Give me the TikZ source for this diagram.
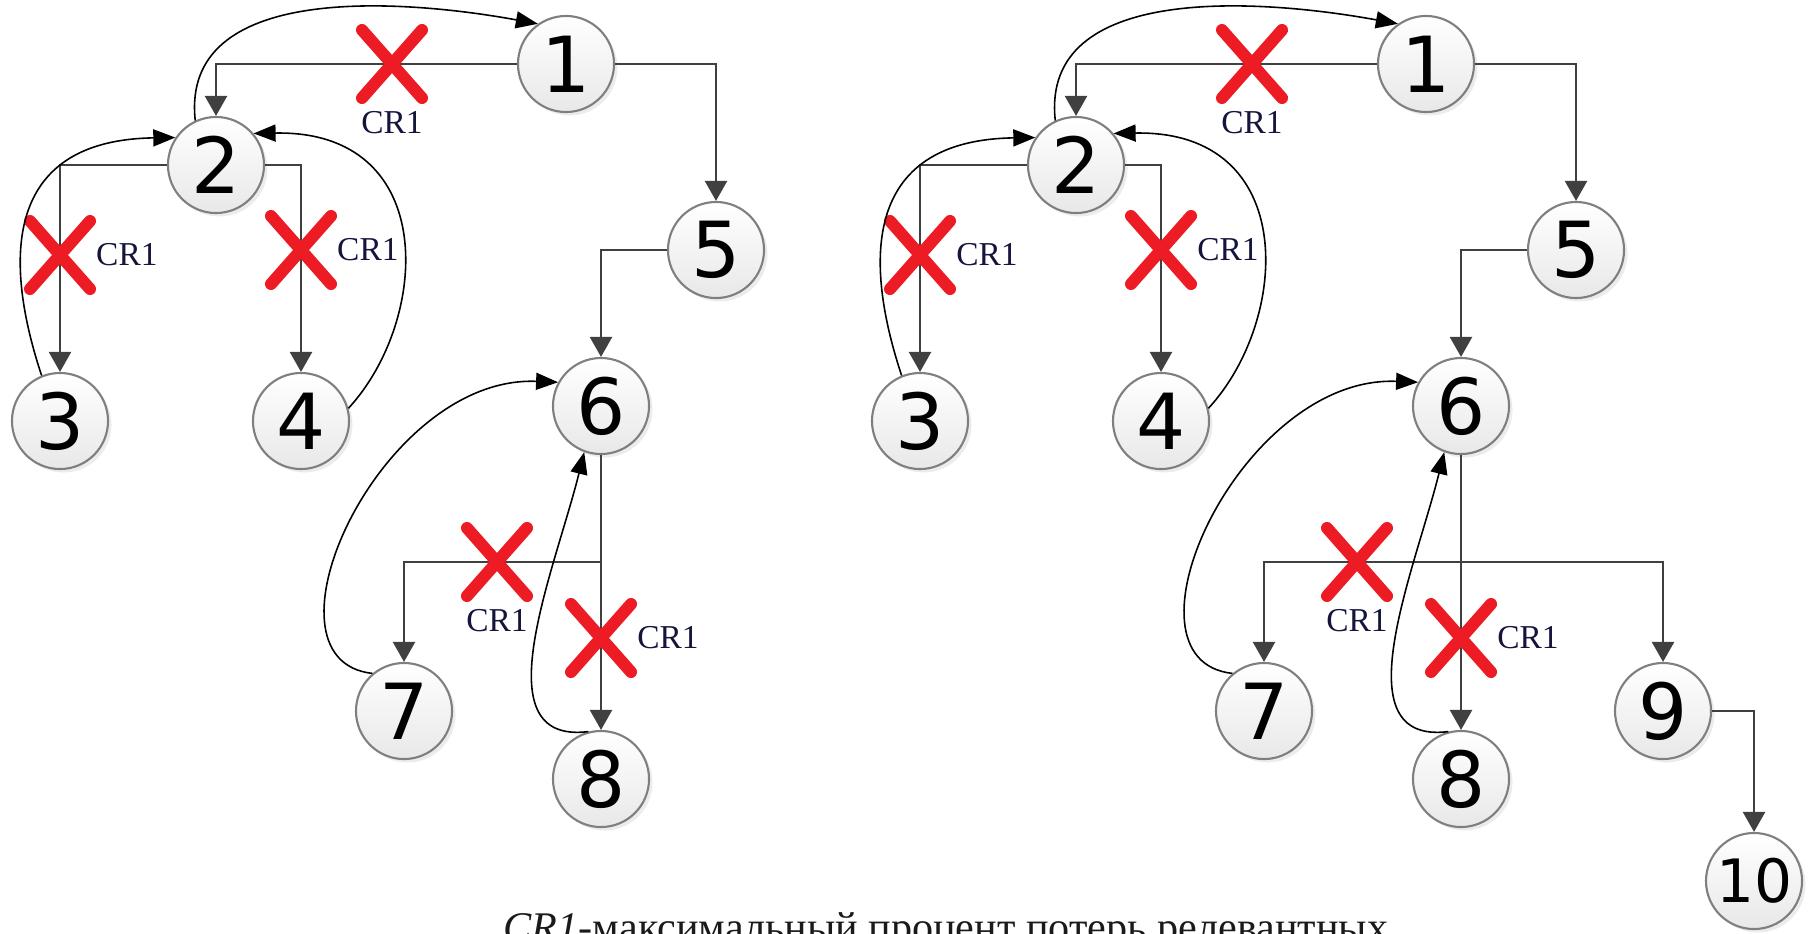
\documentclass[tikz,border=0pt]{standalone}
\usepackage{fontspec}
\setmainfont{Liberation Serif}
\newfontfamily\digitfont{DejaVu Sans}
\usepackage{tikz}
\usetikzlibrary{arrows.meta,positioning,shapes.misc,shadows}
\definecolor{ink}{HTML}{1A1A1A}
\definecolor{linkgray}{HTML}{404040}
\definecolor{rimgray}{HTML}{7F7F7F}
\definecolor{cutred}{HTML}{ED1C24}
\definecolor{tagink}{HTML}{14143C}
\tikzset{
  vertex/.style={circle,draw=rimgray,line width=0.6pt,
                 top color=white,bottom color=black!9,
                 minimum size=0.96cm,inner sep=0pt,
                 font=\digitfont\fontsize{22}{24}\selectfont,
                 drop shadow={shadow xshift=0.035cm,shadow yshift=-0.035cm,opacity=0.15}},
  link/.style={-{Triangle[length=2mm,width=2.2mm]},line width=0.7pt,color=linkgray},
  jump/.style={-{Triangle[length=2.2mm,width=1.7mm]},line width=0.45pt,color=black},
  cut/.style={cross out,draw=cutred,line width=1.2mm,line cap=round,
              minimum width=4.8mm,minimum height=5.6mm,inner sep=0pt},
  crtag/.style={font=\fontsize{9.5}{10}\selectfont,text=tagink,inner sep=1pt}
}

\begin{document}
\begin{tikzpicture}[x=0.01cm,y=-0.01cm]
  \useasboundingbox (0,0) rectangle (1810,933);
  \clip (0,0) rectangle (1810,933);

  % left tree
  \node[vertex] (a1) at (566,64) {1};
  \node[vertex] (a2) at (216,165) {2};
  \node[vertex] (a3) at (60,421) {3};
  \node[vertex] (a4) at (301,421) {4};
  \node[vertex] (a5) at (716,250) {5};
  \node[vertex] (a6) at (601,406) {6};
  \node[vertex] (a7) at (404,711) {7};
  \node[vertex] (a8) at (601,779) {8};
  \coordinate (aj) at (601,562);

  \draw[link] (a1.west) -| (a2.north);
  \draw[link] (a1.east) -| (a5.north);
  \draw[link] (a2.west) -| (a3.north);
  \draw[link] (a2.east) -| (a4.north);
  \draw[link] (a5.west) -| (a6.north);
  \draw[link] (a6.south) -- (a8.north);
  \draw[link] (aj) -| (a7.north);

  \node[cut] (ax12) at (392,64) {};
  \node[crtag,below=0.09cm of ax12] (at12) {CR1};
  \node[cut] (ax23) at (60,255) {};
  \node[crtag,right=0.02cm of ax23] (at23) {CR1};
  \node[cut] (ax24) at (301,250) {};
  \node[crtag,right=0.02cm of ax24] (at24) {CR1};
  \node[cut] (ax67) at (497,562) {};
  \node[crtag,below=0.09cm of ax67] (at67) {CR1};
  \node[cut] (ax68) at (601,638) {};
  \node[crtag,right=0.02cm of ax68] (at68) {CR1};

  \draw[jump] (a2.115) .. controls (180,-18) and (402,-1) .. (a1.125);
  \draw[jump] (a3.112) .. controls (0,250) and (10,140) .. (a2.146);
  \draw[jump] (a4.15) .. controls (430,320) and (440,130) .. (a2.40);
  \draw[jump] (a7.130) .. controls (250,660) and (380,375) .. (a6.151);
  \draw[jump] (a8.105) .. controls (480,745) and (555,570) .. (a6.250);

  % right tree
  \node[vertex] (b1) at (1426,64) {1};
  \node[vertex] (b2) at (1076,165) {2};
  \node[vertex] (b3) at (920,421) {3};
  \node[vertex] (b4) at (1161,421) {4};
  \node[vertex] (b5) at (1576,250) {5};
  \node[vertex] (b6) at (1461,406) {6};
  \node[vertex] (b7) at (1264,711) {7};
  \node[vertex] (b8) at (1461,779) {8};
  \node[vertex] (b9) at (1663,711) {9};
  \node[vertex,font=\digitfont\fontsize{17}{19}\selectfont] (b10) at (1754,881) {10};
  \coordinate (bj) at (1461,562);

  \draw[link] (b1.west) -| (b2.north);
  \draw[link] (b1.east) -| (b5.north);
  \draw[link] (b2.west) -| (b3.north);
  \draw[link] (b2.east) -| (b4.north);
  \draw[link] (b5.west) -| (b6.north);
  \draw[link] (b6.south) -- (b8.north);
  \draw[link] (bj) -| (b7.north);
  \draw[link] (bj) -| (b9.north);
  \draw[link] (b9.east) -| (b10.north);

  \node[cut] (bx12) at (1252,64) {};
  \node[crtag,below=0.09cm of bx12] (bt12) {CR1};
  \node[cut] (bx23) at (920,255) {};
  \node[crtag,right=0.02cm of bx23] (bt23) {CR1};
  \node[cut] (bx24) at (1161,250) {};
  \node[crtag,right=0.02cm of bx24] (bt24) {CR1};
  \node[cut] (bx67) at (1357,562) {};
  \node[crtag,below=0.09cm of bx67] (bt67) {CR1};
  \node[cut] (bx68) at (1461,638) {};
  \node[crtag,right=0.02cm of bx68] (bt68) {CR1};

  \draw[jump] (b2.115) .. controls (1040,-18) and (1262,-1) .. (b1.125);
  \draw[jump] (b3.112) .. controls (860,250) and (870,140) .. (b2.146);
  \draw[jump] (b4.15) .. controls (1290,320) and (1300,130) .. (b2.40);
  \draw[jump] (b7.130) .. controls (1110,660) and (1240,375) .. (b6.151);
  \draw[jump] (b8.105) .. controls (1340,745) and (1415,570) .. (b6.250);

  % caption, cut off by the page edge
  \node[font=\fontsize{12}{14}\selectfont,text=ink,anchor=base,inner sep=0pt] (caption)
    at (946,941) {\textit{CR1}-максимальный процент потерь релевантных};
\end{tikzpicture}
\end{document}
